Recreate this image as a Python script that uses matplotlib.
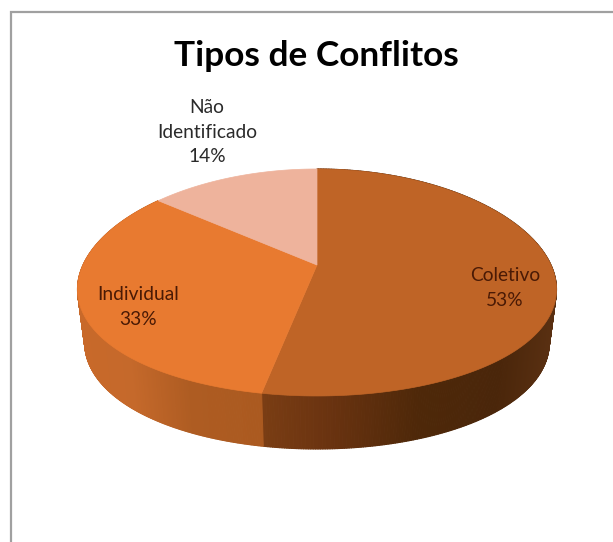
import numpy as np
import matplotlib
matplotlib.use("Agg")
import matplotlib.pyplot as plt
from matplotlib.collections import PolyCollection
from matplotlib.patches import Polygon

title = "Tipos de Conflitos"
categories = ["Coletivo", "Individual", "Não\nIdentificado"]
values = [53, 33, 14]
top_colors = ["#BF6426", "#E87A30", "#EEB39C"]

# pie projection, in pixels of the 613x542 picture
CX, CY = 317, 265
RX, RY = 234, 110.8
PERSP_X = 0.213
PERSP_Y = 0.154
DEPTH = 53
SHRINK = 0.97


def project(theta):
    # theta clockwise from 12 o'clock, perspective on a flat disc
    px = np.sin(theta)
    py = np.cos(theta)
    return CX + RX * px / (1 + PERSP_X * py), CY - RY * py / (1 + PERSP_Y * py)


def side_color(x, stops_x, stops_rgb):
    rgb = np.array([matplotlib.colors.to_rgb(c) for c in stops_rgb])
    return np.column_stack([np.interp(x, stops_x, rgb[:, i]) for i in range(3)])


fig = plt.figure(figsize=(6.13, 5.42), dpi=100)
ax = fig.add_axes([0, 0, 1, 1])
ax.set_xlim(0, 613)
ax.set_ylim(542, 0)
ax.axis("off")

# only top and left of the frame show, the rest is cropped away
ax.plot([613, 11, 11], [12, 12, 542], color="#a0a0a0", linewidth=1.6, solid_joinstyle="miter")

fractions = np.array(values) / sum(values)
edges = np.concatenate([[0], np.cumsum(fractions)]) * 2 * np.pi

side_x = [
    [258, 330, 420, 500, 556],
    [79, 130, 190, 258],
]
side_rgb = [
    ["#7B3E14", "#6A3310", "#4E2809", "#4A260A", "#5A3012"],
    ["#C8692A", "#C5692B", "#AE5C22", "#AB5A20"],
]

# walls first, top face goes over them
for i in range(2):
    t = np.linspace(edges[i], edges[i + 1], 400)
    x, y = project(t)
    xb = CX + (x - CX) * SHRINK
    yb = y + DEPTH
    quads = [
        [(x[j], y[j]), (x[j + 1], y[j + 1]), (xb[j + 1], yb[j + 1]), (xb[j], yb[j])]
        for j in range(len(t) - 1)
    ]
    cols = side_color(x[:-1], side_x[i], side_rgb[i])
    ax.add_collection(PolyCollection(quads, facecolors=cols, edgecolors=cols, linewidths=0.8))

for i in range(3):
    t = np.linspace(edges[i], edges[i + 1], 300)
    x, y = project(t)
    pts = np.column_stack([np.r_[CX, x], np.r_[CY, y]])
    ax.add_patch(Polygon(pts, closed=True, facecolor=top_colors[i], edgecolor=top_colors[i], linewidth=0.5))

font = "Lato"
ax.text(316, 56, title, ha="center", va="center", fontsize=25.4, fontweight="bold", family=font, color="black")
label_pos = [(505, 288), (138, 307), (207, 132)]
label_col = ["#4A1A05", "#4A1A05", "#2A2A2A"]
for i in range(3):
    ax.text(label_pos[i][0], label_pos[i][1], f"{categories[i]}\n{values[i]}%", ha="center", va="center",
            fontsize=13.8, family=font, color=label_col[i], linespacing=1.55)

fig.savefig("out.png", dpi=100)
